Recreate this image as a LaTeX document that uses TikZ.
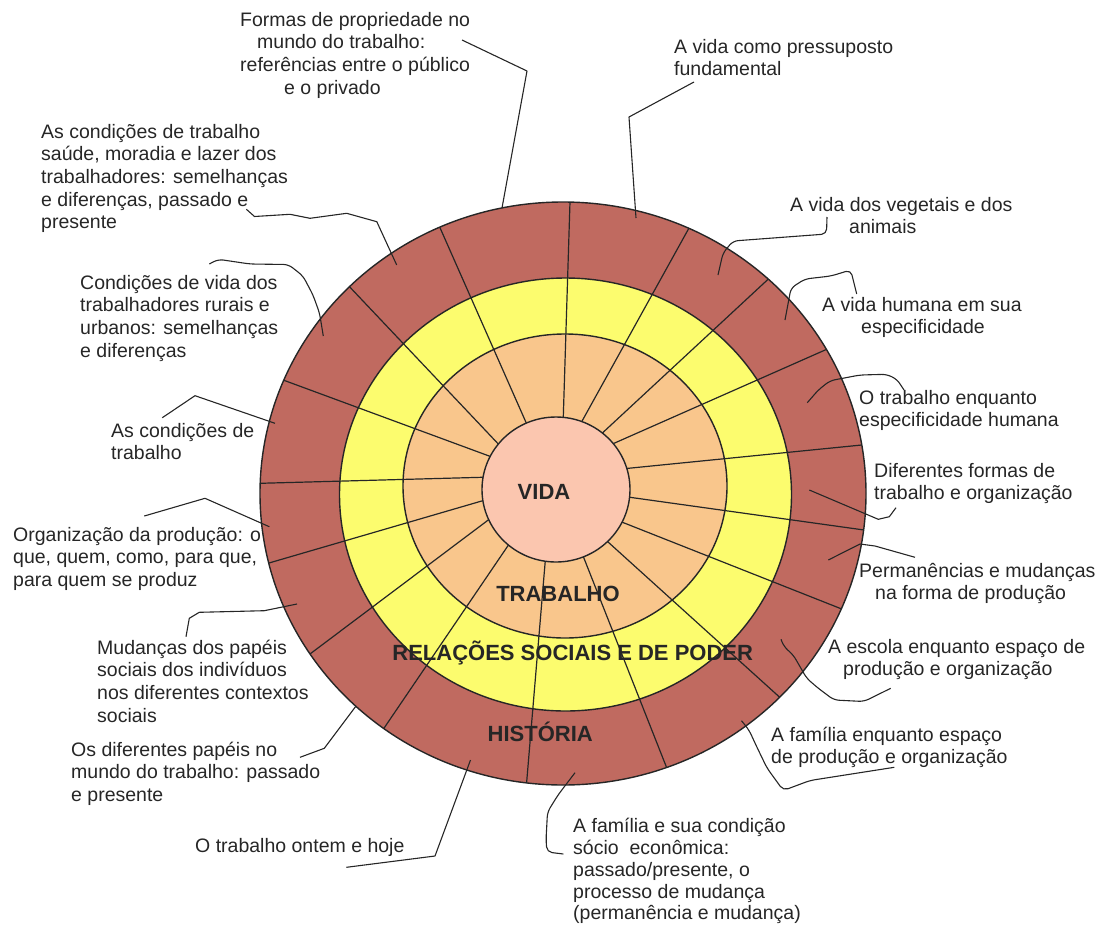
\documentclass[tikz,border=0pt]{standalone}
\usepackage{fontspec}
\setmainfont{Liberation Sans}
\usetikzlibrary{calc}
\definecolor{brownring}{HTML}{C06A60}
\definecolor{yellowring}{HTML}{FCFC6E}
\definecolor{orangering}{HTML}{F9C68C}
\definecolor{coreclr}{HTML}{FBC6AF}
\definecolor{inkclr}{HTML}{262626}
\begin{document}
\begin{tikzpicture}[x=1pt,y=-1pt,
  ringline/.style={draw=inkclr, line width=1.4pt},
  spoke/.style={draw=inkclr, line width=1.2pt},
  leader/.style={draw=inkclr, line width=1.1pt, line join=round},
  curvy/.style={leader, rounded corners=5pt},
  lbl/.style={anchor=north west, inner sep=0pt, align=left, text=inkclr, font=\fontsize{19.5}{22.6}\selectfont},
  corelbl/.style={inner sep=0pt, anchor=base, text=inkclr, font=\bfseries\fontsize{22}{26}\selectfont}]
\useasboundingbox (0,0) rectangle (1104,927);

% rings
\fill[brownring] (563,493.5) ellipse [x radius=303pt, y radius=291.5pt];
\fill[yellowring] (565.5,494.5) ellipse [x radius=226pt, y radius=216.5pt];
\fill[orangering] (565,486) ellipse [x radius=162pt, y radius=152pt];

% spokes
\begin{scope}
\clip (563,493.5) ellipse [x radius=303pt, y radius=291.5pt];
\foreach \ax/\ay/\bx/\by in {
  563.3/416.7/570/201.7, 525.7/421.7/440.7/229.3, 496.7/442.3/351/288.3,
  488.3/455.7/285/380.7, 481.7/477.3/260/483.3, 481.7/501/270/562.7,
  487.3/520.7/311.7/652.7, 507.3/546.7/385/726.7, 545/564/526.7/781.7,
  584/558.3/666/766, 607.7/541.7/778.3/696, 625/523.3/840/608.3,
  630/497.3/864/530, 628.3/468.3/861.7/445, 614/443.3/826.7/349.3,
  602.7/432.7/767.3/280, 581.7/421.7/688.3/229.3}{
  \draw[spoke] ($(\ax,\ay)!-0.05!(\bx,\by)$) -- ($(\ax,\ay)!1.04!(\bx,\by)$);
}
\end{scope}

\draw[ringline] (563,493.5) ellipse [x radius=303pt, y radius=291.5pt];
\draw[ringline] (565.5,494.5) ellipse [x radius=226pt, y radius=216.5pt];
\draw[ringline] (565,486) ellipse [x radius=162pt, y radius=152pt];
\filldraw[fill=coreclr, ringline] (556,489.5) ellipse [x radius=74pt, y radius=72.5pt];

% central labels
\node[corelbl] (vida) at (544,499) {VIDA};
\node[corelbl] (trabalho) at (558,601.7) {TRABALHO};
\node[corelbl] (relacoes) at (572.7,660.7) {RELAÇÕES SOCIAIS E DE PODER};
\node[corelbl] (historia) at (540.3,741.7) {HISTÓRIA};

% outer labels
\node[lbl] (l1) at (240,10.2) {\strut Formas de propriedade no\\\hspace*{17pt}mundo do trabalho:\\referências entre o público\\\hspace*{44pt}e o privado};
\node[lbl] (l2) at (674,37.2) {\strut A vida como pressuposto\\fundamental};
\node[lbl] (l3) at (790,195.2) {\strut A vida dos vegetais e dos\\\hspace*{59pt}animais};
\node[lbl] (l4) at (822,295.2) {\strut A vida humana em sua\\\hspace*{39pt}especificidade};
\node[lbl] (l5) at (859,388.2) {\strut O trabalho enquanto\\especificidade humana};
\node[lbl] (l6) at (874,461.2) {\strut Diferentes formas de\\trabalho e organização};
\node[lbl] (l7) at (859,561.2) {\strut Permanências e mudanças\\\hspace*{16pt}na forma de produção};
\node[lbl] (l8) at (828,637.2) {\strut A escola enquanto espaço de\\\hspace*{15pt}produção e organização};
\node[lbl] (l9) at (771,725.2) {\strut A família enquanto espaço\\de produção e organização};
\node[lbl, font=\fontsize{19.5}{21.8}\selectfont] (l10) at (573,817.2) {\strut A família e sua condição\\sócio\ \ econômica:\\passado/presente, o\\processo de mudança\\(permanência e mudança)};
\node[lbl] (l11) at (195,836.2) {\strut O trabalho ontem e hoje};
\node[lbl] (l12) at (71,740.2) {\strut Os diferentes papéis no\\mundo do trabalho: passado\\e presente};
\node[lbl] (l13) at (97,638.2) {\strut Mudanças dos papéis\\sociais dos indivíduos\\nos diferentes contextos\\sociais};
\node[lbl] (l14) at (13,525.2) {\strut Organização da produção: o\\que, quem, como, para que,\\para quem se produz};
\node[lbl] (l15) at (111,421.2) {\strut As condições de\\trabalho};
\node[lbl] (l16) at (80,273.2) {\strut Condições de vida dos\\trabalhadores rurais e\\urbanos: semelhanças\\e diferenças};
\node[lbl] (l17) at (41,122.2) {\strut As condições de trabalho\\saúde, moradia e lazer dos\\trabalhadores: semelhanças\\e diferenças, passado e\\presente};

% leader ends
\coordinate (c1a) at (462,40);     \coordinate (c1b) at (502,208);
\coordinate (c2a) at (694,82);     \coordinate (c2b) at (636,218);
\coordinate (c3a) at (827,217);    \coordinate (c3b) at (718,275);
\coordinate (c4a) at (856.7,294);  \coordinate (c4b) at (785,320);
\coordinate (c5a) at (904,390);    \coordinate (c5b) at (807.3,402.7);
\coordinate (c6a) at (896,507.7);  \coordinate (c6b) at (809.3,490);
\coordinate (c7a) at (915,557.3);  \coordinate (c7b) at (828.3,560);
\coordinate (c8a) at (890.7,688.3); \coordinate (c8b) at (781,639.3);
\coordinate (c9a) at (894.3,767.3); \coordinate (c9b) at (741.5,720.7);
\coordinate (c10a) at (563.4,854); \coordinate (c10b) at (575,772.7);
\coordinate (c11a) at (346.4,867.3); \coordinate (c11b) at (470.5,760);
\coordinate (c12a) at (300,757.3); \coordinate (c12b) at (356,706);
\coordinate (c13a) at (186,636.7); \coordinate (c13b) at (297,604);
\coordinate (c14a) at (144.3,516); \coordinate (c14b) at (269.3,526.7);
\coordinate (c15a) at (162.3,417.7); \coordinate (c15b) at (275,423.3);
\coordinate (c16a) at (209.3,264); \coordinate (c16b) at (323.3,336);
\coordinate (c17a) at (246.4,209.3); \coordinate (c17b) at (396.7,265);

% leaders
\draw[leader] (c1a) -- (527,71) -- (c1b);
\draw[leader] (c2a) -- (629,117) -- (c2b);
\draw[curvy] (c3a) -- (826.5,234) -- (733,241) -- (723,253) -- (c3b);
\draw[curvy] (c4a) -- (850.7,270) -- (831,276) -- (805,279) -- (791,288) -- (c4b);
\draw[curvy] (c5a) -- (897,379.3) -- (886.7,374.3) -- (860,375) -- (830,380.7) -- (818.3,390) -- (c5b);
\draw[leader] (c6a) -- (889.3,516.7) -- (878.3,519.3) -- (c6b);
\draw[leader] (c7a) -- (875,546) -- (860,544) -- (c7b);
\draw[curvy] (c8a) -- (864,701.5) -- (834,700) -- (818.3,688.3) -- (806.7,678.3) -- (793.3,655) -- (784,646.7) -- (c8b);
\draw[curvy] (c9a) -- (810,780.5) -- (783.3,790.5) -- (767,768) -- (756.7,746.7) -- (749,730) -- (c9b);
\draw[curvy] (c10a) -- (547,852) -- (546,840) -- (547.5,812) -- (558,795) -- (c10b);
\draw[leader] (c11a) -- (435,856) -- (c11b);
\draw[leader] (c12a) -- (324.3,748.3) -- (c12b);
\draw[leader] (c13a) -- (189.3,618.3) -- (199.3,612.3) -- (264.3,610.7) -- (c13b);
\draw[leader] (c14a) -- (205,498.3) -- (c14b);
\draw[leader] (c15a) -- (195,395.7) -- (c15b);
\draw[curvy] (c16a) -- (218.3,259.3) -- (250,264) -- (288.5,264.5) -- (303,276) -- (313,295) -- (319.5,313) -- (c16b);
\draw[leader] (c17a) -- (254.5,216.5) -- (290,214.3) -- (310,218.3) -- (346.7,213.3) -- (376.8,221.7) -- (c17b);
\end{tikzpicture}
\end{document}
